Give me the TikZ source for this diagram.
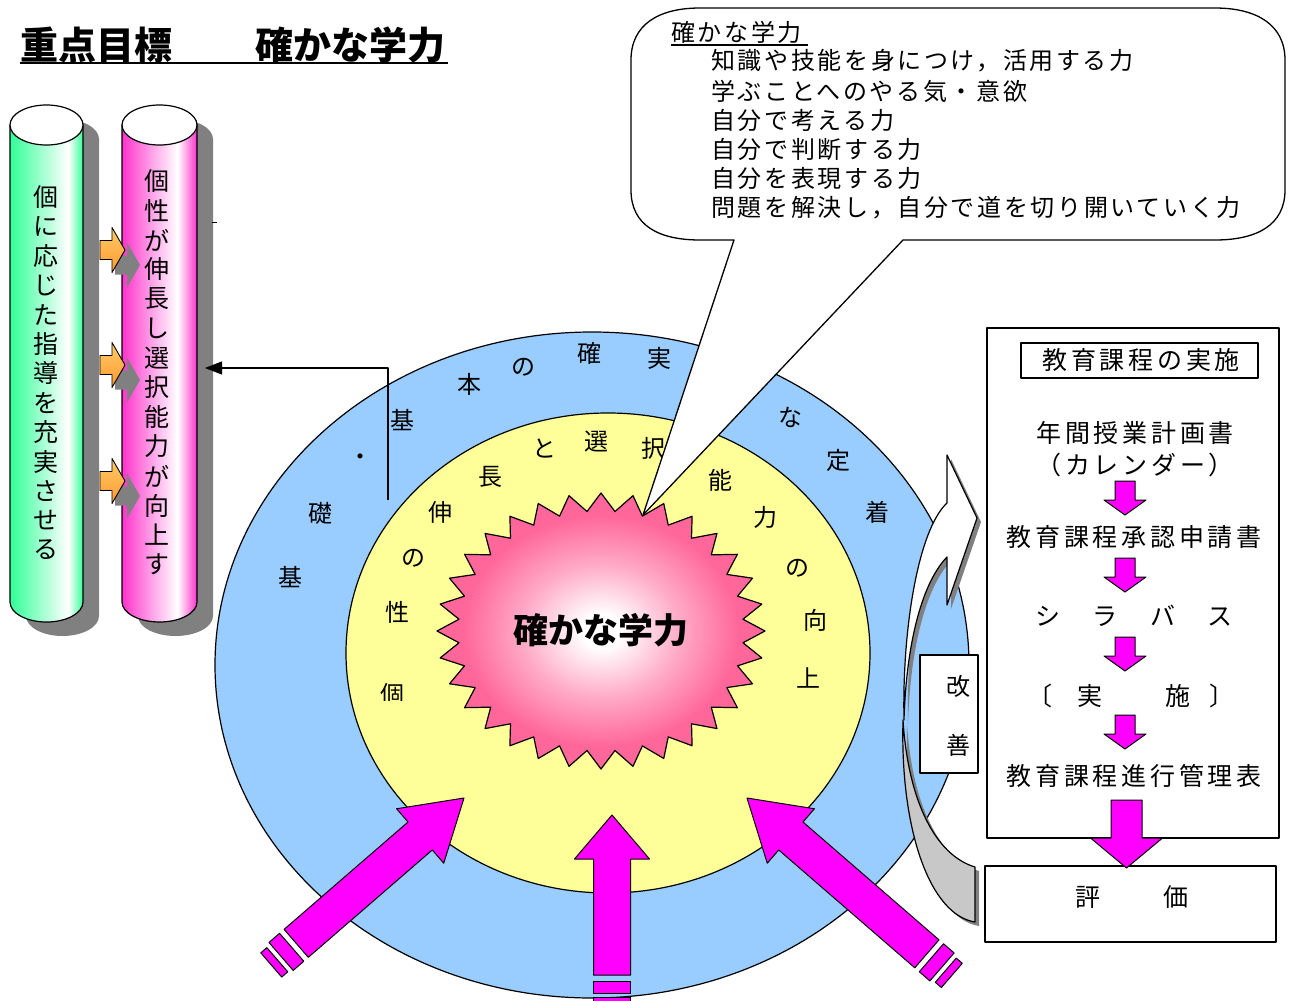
\documentclass[tikz,border=0pt]{standalone}
\usepackage{fontspec}
\newfontfamily\jp{Noto Sans CJK JP}
\newfontfamily\jpls[LetterSpace=11]{Noto Sans CJK JP}
\newfontfamily\jpbox[LetterSpace=15]{Noto Sans CJK JP}
\usetikzlibrary{arrows.meta}
\definecolor{ringblue}{HTML}{99CCFF}
\definecolor{ringyellow}{HTML}{FFFF99}
\definecolor{mag}{HTML}{FF00FF}
\definecolor{starpink}{HTML}{FF6699}
\definecolor{cylgreen}{HTML}{33FF99}
\definecolor{cylpink}{HTML}{FF33CC}
\definecolor{shadowgray}{HTML}{808080}
\definecolor{backgray}{HTML}{C8C8C8}
\definecolor{arrorange}{HTML}{FF9933}
\definecolor{arrorangelt}{HTML}{FFCC66}
\pgfdeclarehorizontalshading{greencyl}{100bp}{color(0bp)=(cylgreen); color(25bp)=(cylgreen); color(47bp)=(cylgreen!45); color(65bp)=(white); color(75bp)=(cylgreen); color(100bp)=(cylgreen)}
\pgfdeclarehorizontalshading{pinkcyl}{100bp}{color(0bp)=(cylpink); color(25bp)=(cylpink); color(45bp)=(cylpink!45); color(62bp)=(white); color(75bp)=(cylpink); color(100bp)=(cylpink)}
\pgfdeclareradialshading{starshade}{\pgfpoint{0bp}{0bp}}{color(0bp)=(white); color(3bp)=(white); color(12bp)=(starpink!55); color(21bp)=(starpink); color(50bp)=(starpink)}
\begin{document}
\begin{tikzpicture}[x=1pt,y=-1pt,line join=round]
\tikzset{
  ol/.style={draw=black,line width=1.2pt},
  ringtxt/.style={font=\jp\fontsize{24}{24}\selectfont,inner sep=0pt},
  cyltxt/.style={font=\jp\fontsize{25}{25}\selectfont,inner sep=0pt},
  boxtxt/.style={font=\jpbox\fontsize{25}{25}\selectfont,inner sep=0pt},
  calltxt/.style={font=\jpls\fontsize{24}{24}\selectfont,inner sep=0pt,anchor=west},
  magarrow/.style={fill=mag,draw=black,line width=1pt},
  titletxt/.style={font=\jp\bfseries\fontsize{38}{38}\selectfont,inner sep=0pt,anchor=west},
  orarrow/.style={draw=black,line width=0.9pt,top color=arrorangelt,bottom color=arrorange},
}
\useasboundingbox (0,0) rectangle (1291,1001);
\fill[white] (0,0) rectangle (1291,1001);

% ---------- title
\node[titletxt] (t1) at (20,45) {重点目標};
\node[titletxt] (t2) at (255,45) {確かな学力};
\draw[line width=2.5pt] (20,63) -- (448,63);

% ---------- cylinder shadows
\begin{scope}[shift={(16,14)}]
  \fill[shadowgray] (10,125) -- (10,602) .. controls (10,613.05) and (26.34,622) .. (46.5,622) .. controls (66.66,622) and (83,613.05) .. (83,602) -- (83,125) -- cycle;
  \fill[shadowgray] (46.5,125) ellipse[x radius=36.5,y radius=20];
  \fill[shadowgray] (122,125) -- (122,602) .. controls (122,613.05) and (138.79,622) .. (159.5,622) .. controls (180.21,622) and (197,613.05) .. (197,602) -- (197,125) -- cycle;
  \fill[shadowgray] (159.5,125) ellipse[x radius=37.5,y radius=20];
\end{scope}

% ---------- cylinders
\shade[shading=greencyl,draw=black,line width=1.2pt] (10,125) -- (10,602) .. controls (10,613.05) and (26.34,622) .. (46.5,622) .. controls (66.66,622) and (83,613.05) .. (83,602) -- (83,125) -- cycle;
\filldraw[fill=white,line width=1.2pt] (46.5,125) ellipse[x radius=36.5,y radius=20];
\shade[shading=pinkcyl,draw=black,line width=1.2pt] (122,125) -- (122,602) .. controls (122,613.05) and (138.79,622) .. (159.5,622) .. controls (180.21,622) and (197,613.05) .. (197,602) -- (197,125) -- cycle;
\filldraw[fill=white,line width=1.2pt] (159.5,125) ellipse[x radius=37.5,y radius=20];

\foreach \c [count=\i from 0] in {個,に,応,じ,た,指,導,を,充,実,さ,せ,る}
  \node[cyltxt] (g\i) at (45.5,{197+29.4*\i}) {\c};
\foreach \c [count=\i from 0] in {個,性,が,伸,長,し,選,択,能,力,が,向,上,す}
  \node[cyltxt] (p\i) at (157,{181+29.5*\i}) {\c};

% ---------- small orange arrows between cylinders
\foreach \yy in {250,365,481} {
  \begin{scope}[shift={(15,15)}]
    \fill[shadowgray] (100,\yy-9.5) -- (112,\yy-9.5) -- (112,\yy-22.5) -- (125,\yy) -- (112,\yy+22.5) -- (112,\yy+9.5) -- (100,\yy+9.5) -- cycle;
  \end{scope}
  \path[orarrow] (100,\yy-9.5) -- (112,\yy-9.5) -- (112,\yy-22.5) -- (125,\yy) -- (112,\yy+22.5) -- (112,\yy+9.5) -- (100,\yy+9.5) -- cycle;
}
\draw[line width=0.8pt] (212,222) -- (217,222);

% ---------- rings
\filldraw[fill=ringblue,ol] (592,665) ellipse[x radius=377,y radius=333];
\filldraw[fill=ringyellow,ol] (608,653) ellipse[x radius=262,y radius=240];
\shadedraw[shading=starshade,draw=black,line width=1.2pt] (765,631)
  \foreach \i in {1,...,63} { -- ({601+164*(1-0.13*mod(\i,2))*cos(\i*5.625)},{631-138*(1-0.13*mod(\i,2))*sin(\i*5.625)}) } -- cycle;
\node[font=\jp\bfseries\fontsize{35}{35}\selectfont,inner sep=0pt] (ctext) at (601,630) {確かな学力};

% outer ring text
\foreach \t/\x/\y [count=\i] in {基/290/577,礎/320/513,・/360/460,基/402/420,本/469/384,の/523/367,確/589/353,実/659/358,な/790/417,定/838/460,着/877/512}
  \node[ringtxt] (o\i) at (\x,\y) {\t};
% inner ring text
\foreach \t/\x/\y [count=\i] in {性/397/612,の/413/558,伸/440/512,長/490/477,と/544/448,選/596/442,択/653/448,能/720/480,力/765/517,の/797/568,向/815/620,上/808/678}
  \node[ringtxt] (y\i) at (\x,\y) {\t};
\begin{scope}
  \clip (350,640) rectangle (440,700);
  \node[ringtxt] (y0) at (392,694) {個};
\end{scope}

% connector to the pink cylinder
\coordinate (lnS) at (388,500);
\coordinate (lnE) at (205,368);
\draw[line width=1.3pt,-{Triangle[length=17pt,width=13pt]}] (lnS) |- (lnE);

% ---------- callout
\filldraw[fill=white,draw=black,line width=1.3pt] (734,240) -- (643,515) -- (903,240) -- (1215,240)
  .. controls (1257,240) and (1285,225) .. (1285,190) -- (1285,60)
  .. controls (1285,25) and (1257,8) .. (1215,8) -- (700,8)
  .. controls (658,8) and (631,25) .. (631,60) -- (631,190)
  .. controls (631,225) and (658,240) .. (700,240) -- cycle;
\node[calltxt] (c0) at (671,32) {確かな学力};
\draw[line width=1.2pt] (671,45) -- (808,45);
\node[calltxt] (c1) at (711,61) {知識や技能を身につけ，活用する力};
\node[calltxt] (c2) at (711,91) {学ぶことへのやる気・意欲};
\node[calltxt] (c3) at (711,120) {自分で考える力};
\node[calltxt] (c4) at (711,149) {自分で判断する力};
\node[calltxt] (c5) at (711,178) {自分を表現する力};
\node[calltxt] (c6) at (711,208) {問題を解決し，自分で道を切り開いていく力};

% ---------- bottom magenta arrows
\begin{scope}[shift={(464,798)},rotate=-139.1]
  \filldraw[magarrow] (0,0) -- (58,36) -- (58,18.5) -- (222,18.5) -- (222,-18.5) -- (58,-18.5) -- (58,-36) -- cycle;
  \filldraw[magarrow] (228,18.5) rectangle (242,-18.5);
  \filldraw[magarrow] (247,16) rectangle (255,-16);
\end{scope}
\begin{scope}[shift={(747,798)},rotate=-40.9]
  \filldraw[magarrow] (0,0) -- (58,36) -- (58,18.5) -- (238,18.5) -- (238,-18.5) -- (58,-18.5) -- (58,-36) -- cycle;
  \filldraw[magarrow] (244,18.5) rectangle (258,-18.5);
  \filldraw[magarrow] (263,16) rectangle (271,-16);
\end{scope}
\begin{scope}[shift={(612,815)},rotate=-90]
  \filldraw[magarrow] (0,0) -- (44,37.5) -- (44,18.5) -- (160,18.5) -- (160,-18.5) -- (44,-18.5) -- (44,-37.5) -- cycle;
  \filldraw[magarrow] (166,18.5) rectangle (178,-18.5);
  \filldraw[magarrow] (182,18.5) rectangle (194,-18.5);
\end{scope}

% ---------- curved improvement arrow
\begin{scope}[shift={(4,4)}]
  \fill[shadowgray] (903,720) .. controls (900,830) and (930,915) .. (975,922) -- (975,867) .. controls (935,855) and (908,800) .. (903,720) -- cycle;
  \fill[shadowgray] (947,503) -- (947,455) -- (977,518) -- (947,605) -- (947,557) .. controls (920,585) and (906,650) .. (904,720) .. controls (902,630) and (918,530) .. (947,503) -- cycle;
\end{scope}
\filldraw[fill=backgray,ol] (903,720) .. controls (900,830) and (930,915) .. (975,922) -- (975,867) .. controls (935,855) and (908,800) .. (903,720) -- cycle;
\filldraw[fill=white,ol] (947,503) -- (947,455) -- (977,518) -- (947,605) -- (947,557) .. controls (920,585) and (906,650) .. (904,720) .. controls (902,630) and (918,530) .. (947,503) -- cycle;
\node[draw,fill=white,line width=1.2pt,minimum width=58pt,minimum height=118pt,inner sep=0pt] (kz) at (949,714) {};
\node[ringtxt] (kz1) at (958,686) {改};
\node[ringtxt] (kz2) at (958,745) {善};

% ---------- right box
\draw[line width=1.5pt] (987,328) rectangle (1279,838);
\draw[line width=1.5pt] (1021,343) rectangle (1258,378);
\node[boxtxt] (b0) at (1141,360) {教育課程の実施};
\node[boxtxt] (b1) at (1135,433) {年間授業計画書};
\node[boxtxt] (b2) at (1135,465) {（カレンダー）};
\node[boxtxt] (b3) at (1134,537) {教育課程承認申請書};
\node[boxtxt] (b4) at (1134,616) {シ　ラ　バ　ス};
\node[boxtxt] (b5a) at (1040,696) {〔};
\node[boxtxt] (b5b) at (1090,696) {実};
\node[boxtxt] (b5c) at (1178,696) {施};
\node[boxtxt] (b5d) at (1222,696) {〕};
\node[boxtxt] (b6) at (1134,776) {教育課程進行管理表};
\foreach \yt in {481,558,637,715}
  \filldraw[magarrow] (1115,\yt) -- (1135,\yt) -- (1135,\yt+19) -- (1146,\yt+19) -- (1125,\yt+34) -- (1104,\yt+19) -- (1115,\yt+19) -- cycle;
\draw[line width=1.5pt] (985,866) rectangle (1276,942);
\node[boxtxt] (e1) at (1088,897) {評};
\node[boxtxt] (e2) at (1176,897) {価};
\filldraw[magarrow] (1111,800) -- (1142,800) -- (1142,838) -- (1162.5,838) -- (1126.5,868) -- (1090.5,838) -- (1111,838) -- cycle;
\end{tikzpicture}
\end{document}
